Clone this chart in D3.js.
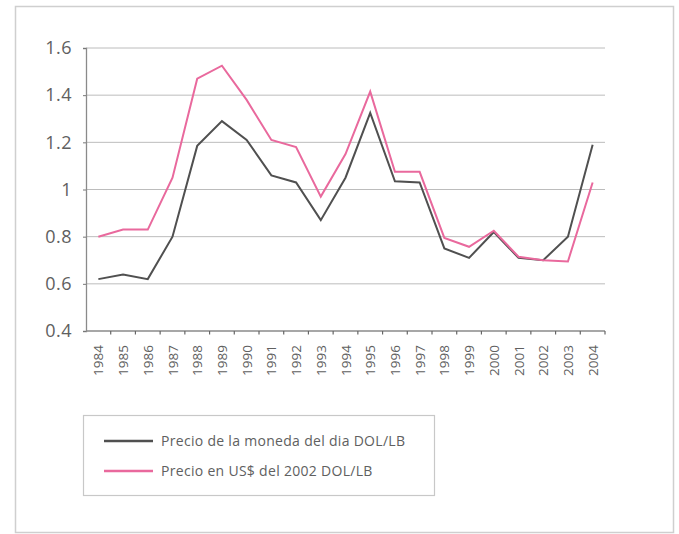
<!DOCTYPE html>
<html>
<head>
<meta charset="utf-8">
<script src="https://cdn.jsdelivr.net/npm/d3@7"></script>
<style>
  body { margin: 0; background: #fff; }
  text { font-family: "Open Sans", Lato, sans-serif; }
</style>
</head>
<body>
<div id="chart"></div>
<script>
// data
var years = ["1984","1985","1986","1987","1988","1989","1990","1991","1992","1993","1994",
             "1995","1996","1997","1998","1999","2000","2001","2002","2003","2004"];
var precioDia = [0.62,0.64,0.62,0.80,1.185,1.29,1.21,1.06,1.03,0.87,1.05,
                 1.325,1.035,1.03,0.75,0.71,0.82,0.71,0.70,0.80,1.19];
var precio2002 = [0.80,0.83,0.83,1.05,1.47,1.525,1.38,1.21,1.18,0.97,1.15,
                  1.415,1.075,1.075,0.795,0.757,0.825,0.715,0.70,0.695,1.03];
var yTicks = [0.4,0.6,0.8,1.0,1.2,1.4,1.6];
var seriesNames = ["Precio de la moneda del dia DOL/LB", "Precio en US$ del 2002 DOL/LB"];
var seriesColors = ["#505050", "#e9699d"];

var width = 679, height = 534;
var svg = d3.select("#chart").append("svg")
  .attr("width", width).attr("height", height);

// outer frame
svg.append("rect")
  .attr("x", 15.5).attr("y", 6.5)
  .attr("width", 658).attr("height", 526)
  .attr("fill", "none").attr("stroke", "#cfcfcf").attr("stroke-width", 1.5);

var x = d3.scaleBand().domain(years).range([86, 605]);
var y = d3.scaleLinear().domain([0.4, 1.6]).range([331, 48]);

// gridlines
svg.append("g")
  .selectAll("line")
  .data(yTicks.slice(1))
  .enter().append("line")
    .attr("x1", 86).attr("x2", 605)
    .attr("y1", d => y(d)).attr("y2", d => y(d))
    .attr("stroke", "#bcbcbc").attr("stroke-width", 1);

// y axis
var yAxis = svg.append("g")
  .attr("transform", "translate(86,0)")
  .call(d3.axisLeft(y).tickValues(yTicks).tickSize(3).tickPadding(11)
        .tickFormat(d => d == 1 ? "1" : d3.format(".1f")(d)));
yAxis.select(".domain").attr("stroke", "#8a8a8a").attr("stroke-width", 1.3);
yAxis.selectAll(".tick line").attr("stroke", "#777");
yAxis.selectAll("text").attr("fill", "#606060")
  .style("font-size", "18px").style("letter-spacing", "0.5px");

// x axis with ticks between categories
var xAxis = svg.append("g").attr("transform", "translate(0,331)");
xAxis.append("line")
  .attr("x1", 86).attr("x2", 605)
  .attr("stroke", "#8a8a8a").attr("stroke-width", 1.3);
xAxis.selectAll(".tk")
  .data(years)
  .enter().append("line")
    .attr("class", "tk")
    .attr("x1", d => x(d) + x.bandwidth()).attr("x2", d => x(d) + x.bandwidth())
    .attr("y1", 0).attr("y2", 3.5)
    .attr("stroke", "#666").attr("stroke-width", 1.2);
xAxis.selectAll("text")
  .data(years)
  .enter().append("text")
    .attr("transform", d => "translate(" + (x(d) + x.bandwidth()/2 + 5) + ",14) rotate(-90)")
    .attr("text-anchor", "end")
    .attr("fill", "#606060")
    .style("font-size", "13.5px")
    .text(d => d);

// lines
var line = d3.line()
  .x((d, i) => x(years[i]) + x.bandwidth()/2)
  .y(d => y(d));

[precioDia, precio2002].forEach(function(vals, i) {
  svg.append("path")
    .datum(vals)
    .attr("d", line)
    .attr("fill", "none")
    .attr("stroke", seriesColors[i])
    .attr("stroke-width", 2)
    .attr("stroke-linejoin", "miter");
});

// legend
var legend = svg.append("g");
legend.append("rect")
  .attr("x", 83.5).attr("y", 415.5)
  .attr("width", 351).attr("height", 80)
  .attr("fill", "none").attr("stroke", "#c8c8c8").attr("stroke-width", 1.2);

seriesNames.forEach(function(name, i) {
  var ly = 441 + i * 30;
  legend.append("line")
    .attr("x1", 104).attr("x2", 153)
    .attr("y1", ly).attr("y2", ly)
    .attr("stroke", seriesColors[i]).attr("stroke-width", 2.5);
  legend.append("text")
    .attr("x", 161).attr("y", ly)
    .attr("dy", "0.35em")
    .attr("fill", "#606060")
    .style("font-size", "14px")
    .style("letter-spacing", "0.3px")
    .text(name);
});
</script>
</body>
</html>
